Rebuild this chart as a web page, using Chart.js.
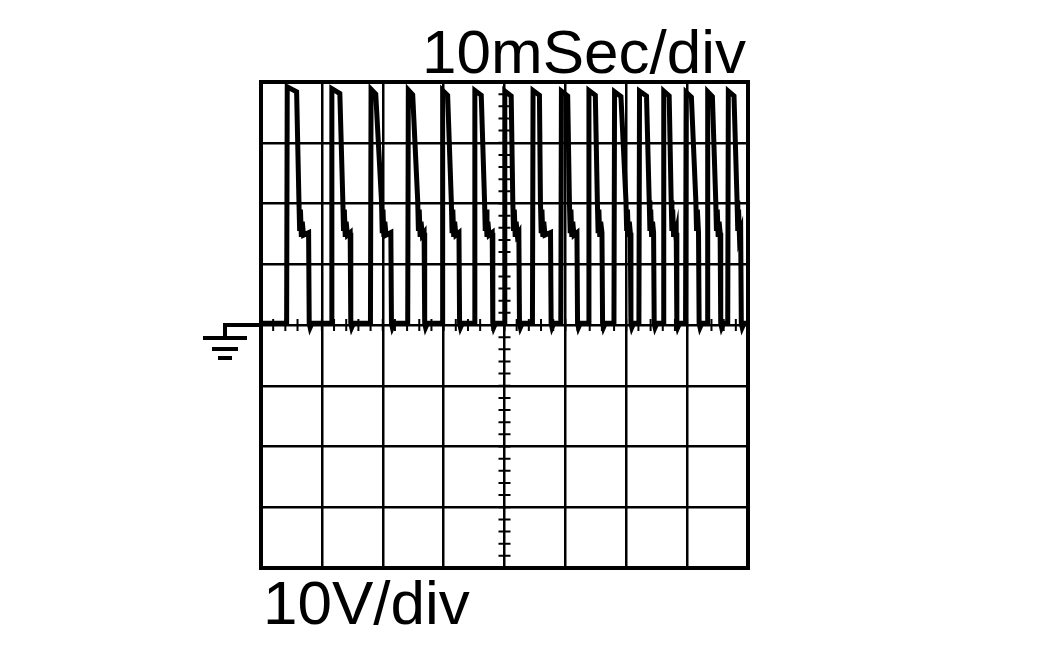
<!DOCTYPE html>
<html>
<head>
<meta charset="utf-8">
<title>Scope trace</title>
<script src="https://cdn.jsdelivr.net/npm/chart.js@4.4.1/dist/chart.umd.min.js"></script>
<style>
  html, body { margin: 0; padding: 0; background: #fff; }
  canvas { display: block; }
</style>
</head>
<body>
<canvas id="scope" width="1063" height="661"></canvas>
<script>
// pulse timings (ms, 10 ms/div)
const riseMs   = [4.26, 11.59, 18.03, 24.15, 29.79, 35.08, 40.0, 44.64, 49.3, 53.82, 58.03, 62.13, 66.11, 69.79, 73.33, 76.72];
const topEndMs = [5.85, 12.95, 18.85, 24.92, 30.66, 36.18, 41.1, 45.74, 50.38, 54.92, 59.13, 63.33, 67.05, 70.7, 74.15, 77.7];
const dropMs   = [6.23, 13.44, 19.79, 25.74, 31.26, 36.72, 41.36, 45.9, 50.66, 55.25, 59.95, 63.77, 67.38, 71.43, 74.7, 78.2];
const offMs    = [7.92, 14.75, 21.43, 26.89, 32.62, 38.08, 42.46, 47.66, 52.0, 56.11, 60.77, 64.59, 68.31, 71.97, 75.52, 78.9];
// levels (V, 10 V/div)
const peakV = [39.2, 38.9, 38.8, 38.7, 38.6, 38.6, 38.5, 38.6, 38.5, 38.6, 38.4, 38.5, 38.5, 38.3, 38.4, 38.5];
const stepV = 20.5;
const shelfV = 15.2;
const baseV = 0.3;
// ringing on the shelf after each drop (offset ms, volts)
const ringOffsetMs = [0.12, 0.25, 0.4, 0.55, 0.75];
const ringV = [15.5, 19, 14.5, 17, 14.8];

const trace = [{ x: 0, y: baseV }];
for (let i = 0; i < riseMs.length; i++) {
  trace.push({ x: riseMs[i] - 0.05, y: baseV });
  trace.push({ x: riseMs[i] + 0.05, y: peakV[i] });
  trace.push({ x: topEndMs[i], y: peakV[i] - 0.8 });
  trace.push({ x: dropMs[i], y: stepV });
  ringOffsetMs.forEach((dt, k) => {
    if (dropMs[i] + dt < offMs[i] - 0.15) trace.push({ x: dropMs[i] + dt, y: ringV[k] });
  });
  trace.push({ x: offMs[i] - 0.1, y: shelfV });
  trace.push({ x: offMs[i], y: baseV });
  trace.push({ x: offMs[i] + 0.15, y: -0.4 });
  trace.push({ x: offMs[i] + 0.45, y: baseV });
}
trace.push({ x: 80, y: baseV });

// frame, centre-line minor ticks, ground marker and the scale labels
const scopeDecor = {
  id: 'scopeDecor',
  beforeDatasetsDraw(chart) {
    const { ctx, chartArea: a, scales: { x, y } } = chart;
    ctx.save();
    ctx.strokeStyle = '#000';
    ctx.lineWidth = 2;
    const x0 = x.getPixelForValue(40);
    const y0 = y.getPixelForValue(0);
    ctx.beginPath();
    for (let v = -40; v <= 40; v += 2) {
      const py = y.getPixelForValue(v);
      ctx.moveTo(x0 - 6, py);
      ctx.lineTo(x0 + 6, py);
    }
    for (let t = 0; t <= 80; t += 2) {
      const px = x.getPixelForValue(t);
      ctx.moveTo(px, y0 - 6);
      ctx.lineTo(px, y0 + 6);
    }
    ctx.stroke();

    ctx.lineWidth = 4;
    ctx.strokeRect(a.left, a.top, a.right - a.left, a.bottom - a.top);

    // ground symbol
    ctx.beginPath();
    ctx.moveTo(a.left, y0);
    ctx.lineTo(225, y0);
    ctx.lineTo(225, y0 + 13);
    ctx.moveTo(203, y0 + 13); ctx.lineTo(247, y0 + 13);
    ctx.moveTo(212, y0 + 24); ctx.lineTo(238, y0 + 24);
    ctx.moveTo(218, y0 + 33); ctx.lineTo(232, y0 + 33);
    ctx.stroke();
    ctx.restore();
  },
  afterDraw(chart) {
    const { ctx, chartArea: a } = chart;
    ctx.save();
    ctx.fillStyle = '#000';
    ctx.font = '62px "Liberation Sans", Arial, sans-serif';
    ctx.textBaseline = 'alphabetic';
    ctx.textAlign = 'right';
    ctx.fillText('10mSec/div', a.right - 2, 73);
    ctx.textAlign = 'left';
    ctx.fillText('10V/div', a.left + 2, 624);
    ctx.restore();
  }
};

const gridOpts = { color: '#000', lineWidth: 2.5, drawTicks: false };

new Chart(document.getElementById('scope'), {
  type: 'scatter',
  data: {
    datasets: [{
      data: trace,
      showLine: true,
      borderColor: '#000',
      borderWidth: 5,
      pointRadius: 0,
      tension: 0
    }]
  },
  options: {
    responsive: false,
    animation: false,
    events: [],
    layout: { padding: { left: 261, right: 315, top: 82, bottom: 93 } },
    plugins: { legend: { display: false }, tooltip: { enabled: false } },
    scales: {
      x: {
        type: 'linear', min: 0, max: 80,
        ticks: { display: false, stepSize: 10 },
        grid: gridOpts,
        border: { display: false }
      },
      y: {
        type: 'linear', min: -40, max: 40,
        ticks: { display: false, stepSize: 10 },
        grid: gridOpts,
        border: { display: false }
      }
    }
  },
  plugins: [scopeDecor]
});
</script>
</body>
</html>
